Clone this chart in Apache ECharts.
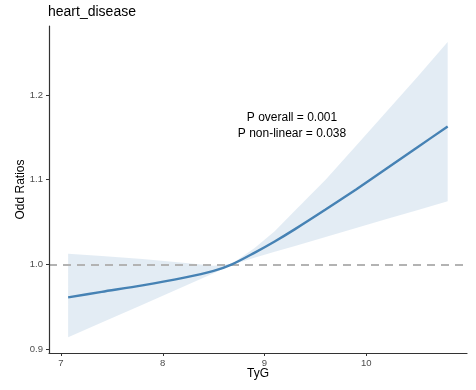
<!DOCTYPE html>
<html>
<head>
<meta charset="utf-8">
<script src="https://cdn.jsdelivr.net/npm/echarts@6/dist/echarts.min.js"></script>
<style>
  html, body { margin: 0; padding: 0; background: #ffffff; }
  #chart { width: 476px; height: 390px; }
</style>
</head>
<body>
<div id="chart"></div>
<script>
// Restricted cubic spline fit: odds ratio of heart disease across TyG index
const tyg       = [7.07, 7.4, 7.8, 8.2, 8.5, 8.68, 8.9, 9.1, 9.3, 9.6, 9.9, 10.2, 10.5, 10.8];
const oddsRatio = [0.9610, 0.9675, 0.9752, 0.9841, 0.9923, 1.0000, 1.0136, 1.0270, 1.0416, 1.0647, 1.0885, 1.1131, 1.1380, 1.1629];
const ciLower   = [0.9138, 0.9313, 0.9524, 0.9736, 0.9894, 0.9994, 1.0077, 1.0148, 1.0217, 1.0323, 1.0429, 1.0535, 1.0640, 1.0746];
const ciUpper   = [1.0126, 1.0099, 1.0064, 1.0018, 0.9982, 1.0006, 1.0189, 1.0390, 1.0635, 1.1000, 1.1400, 1.1805, 1.2210, 1.2627];

const xTicks = [7, 8, 9, 10];
const yTicks = [0.9, 1.0, 1.1, 1.2];
const refValue = 1;
const annotations = ['P overall = 0.001', 'P non-linear = 0.038'];

const chart = echarts.init(document.getElementById('chart'), null, { renderer: 'canvas' });

const FONT = 'Liberation Sans, Arial, sans-serif';
const axisColor = '#333333';

const option = {
  animation: false,
  backgroundColor: '#ffffff',
  title: {
    text: 'heart_disease',
    left: 48,
    top: 5,
    padding: 0,
    textStyle: { fontFamily: FONT, fontSize: 14, fontWeight: 'normal', color: '#000000' }
  },
  grid: { left: 49, right: 9, top: 26, bottom: 37, containLabel: false },
  xAxis: {
    type: 'value',
    min: 6.882,
    max: 10.99,
    name: 'TyG',
    nameLocation: 'middle',
    nameGap: 15,
    nameMoveOverlap: false,
    nameTextStyle: { fontFamily: FONT, fontSize: 12, color: '#000000' },
    axisLine: { show: true, onZero: false, lineStyle: { color: axisColor, width: 1.2 } },
    axisTick: { show: true, length: 3, customValues: xTicks, lineStyle: { color: axisColor, width: 1 } },
    axisLabel: {
      customValues: xTicks,
      margin: 5,
      fontFamily: FONT, fontSize: 9.5, color: '#4d4d4d',
      formatter: v => String(v)
    },
    splitLine: { show: false },
    z: 10
  },
  yAxis: {
    type: 'value',
    min: 0.8953,
    max: 1.2815,
    name: 'Odd Ratios',
    nameLocation: 'middle',
    nameRotate: 90,
    nameGap: 22,
    nameMoveOverlap: false,
    nameTextStyle: { fontFamily: FONT, fontSize: 12, color: '#000000' },
    axisLine: { show: true, onZero: false, lineStyle: { color: axisColor, width: 1.2 } },
    axisTick: { show: true, length: 3, customValues: yTicks, lineStyle: { color: axisColor, width: 1 } },
    axisLabel: {
      customValues: yTicks,
      margin: 6,
      fontFamily: FONT, fontSize: 9.5, color: '#4d4d4d',
      formatter: v => v.toFixed(1)
    },
    splitLine: { show: false },
    z: 10
  },
  graphic: [
    {
      type: 'text',
      x: 292,
      y: 110,
      style: {
        text: annotations.join('\n'),
        align: 'center',
        verticalAlign: 'top',
        lineHeight: 16,
        fontFamily: FONT,
        fontSize: 12,
        fill: '#000000'
      },
      z: 20
    }
  ],
  series: [
    {
      // confidence band
      type: 'custom',
      name: 'CI',
      silent: true,
      data: [0],
      clip: true,
      z: 1,
      renderItem: function (params, api) {
        const pts = [];
        for (let i = 0; i < tyg.length; i++) pts.push(api.coord([tyg[i], ciUpper[i]]));
        for (let i = tyg.length - 1; i >= 0; i--) pts.push(api.coord([tyg[i], ciLower[i]]));
        return {
          type: 'polygon',
          shape: { points: pts },
          style: { fill: 'rgba(70,130,180,0.15)', stroke: 'none' }
        };
      }
    },
    {
      type: 'line',
      name: 'OR',
      data: tyg.map((t, i) => [t, oddsRatio[i]]),
      smooth: 0.3,
      symbol: 'none',
      silent: true,
      z: 3,
      lineStyle: { color: '#4682b4', width: 2.4 },
      markLine: {
        silent: true,
        symbol: ['none', 'none'],
        label: { show: false },
        z: 2,
        lineStyle: { color: '#b3b3b3', width: 2, type: [8, 6] },
        emphasis: { disabled: true },
        data: [{ yAxis: refValue }]
      }
    }
  ]
};

chart.setOption(option);
</script>
</body>
</html>
